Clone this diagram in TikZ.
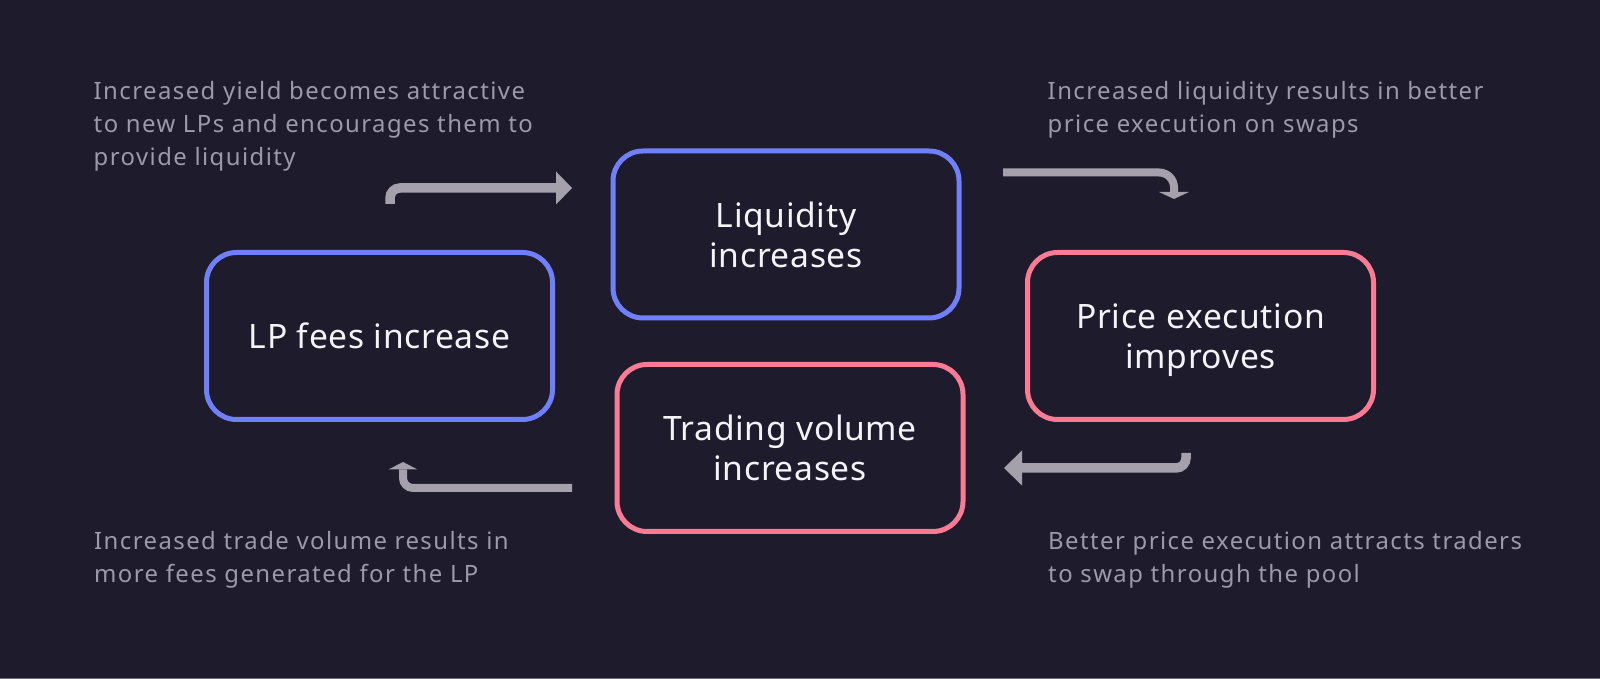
\documentclass[tikz,border=0pt]{standalone}
\usepackage{fontspec}
\setmainfont{Noto Sans}
\newfontfamily\boxfont[LetterSpace=2]{Noto Sans}
\newfontfamily\notefont[LetterSpace=6]{Noto Sans}
\usetikzlibrary{%
  arrows.meta,%
  positioning,%
  calc%
}
\definecolor{bgdark}{HTML}{1E1B2C}
\definecolor{liqblue}{HTML}{6F80FA}
\definecolor{volpink}{HTML}{FA7B93}
\definecolor{arrowgray}{HTML}{A4A1AD}
\definecolor{notegray}{HTML}{9C99A8}
\definecolor{boxtext}{HTML}{F4F4F6}

\begin{document}
\begin{tikzpicture}[
  font=\boxfont\fontsize{9.56pt}{11.4pt}\selectfont,
  cyclebox/.style={draw, line width=0.05cm, rounded corners=0.3cm,
    minimum width=3.46cm, minimum height=1.67cm, align=center,
    text depth=0pt, text=boxtext, fill=bgdark},
  bluebox/.style={cyclebox, draw=liqblue},
  pinkbox/.style={cyclebox, draw=volpink},
  note/.style={anchor=north west, align=left, inner sep=0pt, text=notegray,
    font=\notefont\fontsize{6.8pt}{9.3pt}\selectfont},
  flow/.style={draw=arrowgray, line width=0.095cm, rounded corners=0.1cm}
]

\fill[bgdark] (0,0) rectangle (16,6.79);
\useasboundingbox (0,0) rectangle (16,6.79);
\draw[arrowgray!60!bgdark, line width=0.01cm] (0,0.005) -- (16,0.005);

% the four steps of the cycle
\node[bluebox] (fees) at (3.795,3.43) {LP fees increase};
\node[bluebox] (liq) at (7.86,4.445) {Liquidity\\increases};
\node[pinkbox] (price) at (12.005,3.43) {Price execution\\improves};
\node[pinkbox] (vol) at (7.90,2.31) {Trading volume\\increases};

% explanations
\node[note] (tfees) at (0.93,5.98) {Increased yield becomes attractive\\to new LPs and encourages them to\\provide liquidity};
\node[note] (tliq) at (10.47,5.98) {Increased liquidity results in better\\price execution on swaps};
\node[note] (tvol) at (0.935,1.48) {Increased trade volume results in\\more fees generated for the LP};
\node[note] (tprice) at (10.475,1.48) {Better price execution attracts traders\\to swap through the pool};

% arrow ends
\coordinate (a1) at (3.90,4.75);
\coordinate (b1) at (5.72,4.91);
\coordinate (a2) at (10.03,5.065);
\coordinate (b2) at (11.74,4.80);
\coordinate (a3) at (11.86,2.26);
\coordinate (b3) at (10.04,2.11);
\coordinate (a4) at (5.72,1.91);
\coordinate (b4) at (4.03,2.17);

\draw[flow, -{Triangle[length=0.16cm,width=0.33cm,line width=0pt]}] (a1) |- (b1);
\draw[flow, line width=0.08cm, rounded corners=0.15cm,
  -{Triangle[length=0.07cm,width=0.30cm,line width=0pt]}] (a2) -| (b2);
\draw[flow, -{Triangle[length=0.18cm,width=0.35cm,line width=0pt]}] (a3) |- (b3);
\draw[flow, line width=0.08cm,
  -{Triangle[length=0.075cm,width=0.29cm,line width=0pt]}] (a4) -| (b4);

\end{tikzpicture}
\end{document}
